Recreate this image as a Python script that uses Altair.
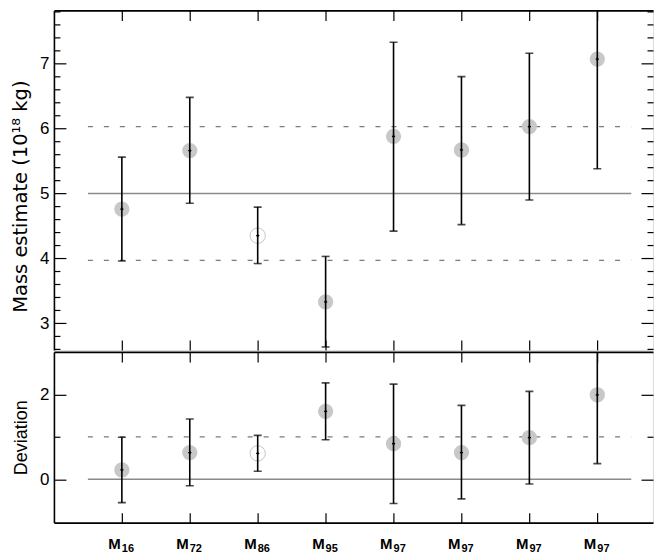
import altair as alt
import pandas as pd

# ---------------- data ----------------
positions = [1, 2, 3, 4, 5, 6, 7, 8]
label_main = ["M"] * 8
label_sub = ["16", "72", "86", "95", "97", "97", "97", "97"]
filled = [True, True, False, True, True, True, True, True]

mass = [4.76, 5.66, 4.35, 3.33, 5.88, 5.67, 6.03, 7.07]
mass_hi = [5.56, 6.48, 4.79, 4.03, 7.33, 6.80, 7.16, 8.80]
mass_lo = [3.96, 4.85, 3.92, 2.635, 4.42, 4.52, 4.90, 5.38]

dev = [0.22, 0.63, 0.61, 1.60, 0.84, 0.63, 0.98, 1.99]
dev_hi = [0.99, 1.42, 1.035, 2.27, 2.24, 1.74, 2.07, 3.60]
dev_lo = [-0.55, -0.15, 0.19, 0.93, -0.57, -0.46, -0.11, 0.37]

line_start, line_end = 0.5, 8.5
mass_solid = [5.0]
mass_dashed = [3.97, 6.03]
dev_solid = [0.0]
dev_dashed = [1.0]

mass_major = [3, 4, 5, 6, 7]
mass_minor = [2.6, 2.8, 3.2, 3.4, 3.6, 3.8, 4.2, 4.4, 4.6, 4.8, 5.2, 5.4, 5.6, 5.8,
              6.2, 6.4, 6.6, 6.8, 7.2, 7.4, 7.6, 7.8]
dev_major = [0, 2]
dev_minor = [1]

FONT = "Liberation Sans"
W = 600
H_TOP = 340
H_BOT = 171

xscale = alt.Scale(domain=[0, 8.82], nice=False, zero=False)
top_scale = alt.Scale(domain=[2.59, 7.82], nice=False, zero=False)
bot_scale = alt.Scale(domain=[-1.02, 3.0], nice=False, zero=False)


def tick_axis(orient, values, size):
    return alt.Axis(orient=orient, values=values, offset=-size, tickSize=size,
                    labels=False, domain=False, grid=False, title=None,
                    tickColor="black", tickWidth=1.2, minExtent=0, maxExtent=0)


def frame_axis(orient):
    return alt.Axis(orient=orient, ticks=False, labels=False, grid=False, title=None,
                    domain=True, domainColor="black", domainWidth=1.6,
                    minExtent=0, maxExtent=0)


def panel(val, hi, lo, solid, dashed, yscale, major, minor, title, title_font,
          title_size, title_y, height, add_labels, bottom_frame):
    df = pd.DataFrame({"pos": positions, "val": val, "hi": hi, "lo": lo,
                       "filled": filled})
    solid_df = pd.DataFrame({"y": solid, "x1": [line_start] * len(solid),
                             "x2": [line_end] * len(solid)})
    dashed_df = pd.DataFrame({"y": dashed, "x1": [line_start] * len(dashed),
                              "x2": [line_end] * len(dashed)})
    X = alt.X("pos:Q", scale=xscale, axis=None)

    layers = []
    layers.append(alt.Chart(solid_df).mark_rule(color="#8a8a8a", strokeWidth=1.5).encode(
        x=alt.X("x1:Q", scale=xscale, axis=None), x2="x2:Q",
        y=alt.Y("y:Q", scale=yscale, axis=None)))
    layers.append(alt.Chart(dashed_df).mark_rule(color="#7a7a7a", strokeWidth=1.3,
                                                 strokeDash=[5, 11]).encode(
        x=alt.X("x1:Q", scale=xscale, axis=None), x2="x2:Q",
        y=alt.Y("y:Q", scale=yscale, axis=None)))
    layers.append(alt.Chart(df).transform_filter("datum.filled").mark_circle(
        size=235, color="#c8c8c8", opacity=1).encode(
        x=X, y=alt.Y("val:Q", scale=yscale, axis=None)))
    layers.append(alt.Chart(df).transform_filter("!datum.filled").mark_point(
        shape="circle", size=235, color="#c4c4c4", strokeWidth=1, opacity=1).encode(
        x=X, y=alt.Y("val:Q", scale=yscale, axis=None)))
    layers.append(alt.Chart(df).mark_rule(color="black", strokeWidth=1.6, clip=True).encode(
        x=X, y=alt.Y("lo:Q", scale=yscale, axis=None), y2="hi:Q"))
    layers.append(alt.Chart(df).mark_tick(color="black", orient="horizontal", size=8,
                                          thickness=1.6, clip=True).encode(
        x=X, y=alt.Y("hi:Q", scale=yscale, axis=None)))
    layers.append(alt.Chart(df).mark_tick(color="black", orient="horizontal", size=8,
                                          thickness=1.6, clip=True).encode(
        x=X, y=alt.Y("lo:Q", scale=yscale, axis=None)))
    layers.append(alt.Chart(df).mark_point(shape="cross", filled=True, size=10,
                                           color="black", opacity=1).encode(
        x=X, y=alt.Y("val:Q", scale=yscale, axis=None)))

    # axes carried by transparent layers sharing the same scales
    lab_kw = dict(orient="left", values=major, ticks=False, grid=False,
                  domain=True, domainColor="black", domainWidth=1.6,
                  labelPadding=5, labelFont=FONT, labelFontSize=17,
                  labelColor="black", format="d", title=title,
                  titleFont=title_font, titleFontSize=title_size,
                  titleFontWeight="normal", titleColor="black", titlePadding=9)
    if title_y is not None:
        lab_kw["titleY"] = title_y
    lab_axis = alt.Axis(**lab_kw)
    xtick = dict(values=positions, offset=-10, tickSize=10, labels=False,
                 domain=False, grid=False, title=None, tickColor="black",
                 tickWidth=1.2, minExtent=0, maxExtent=0)
    axes_spec = [
        (alt.Axis(orient="top", **xtick), lab_axis),
        (alt.Axis(orient="bottom", **xtick), tick_axis("left", major, 12)),
        (frame_axis("top"), tick_axis("left", minor, 6)),
        (frame_axis("bottom") if bottom_frame else None, tick_axis("right", major, 12)),
        (None, tick_axis("right", minor, 6)),
    ]
    for xa, ya in axes_spec:
        layers.append(alt.Chart(df).mark_point(opacity=0).encode(
            x=alt.X("pos:Q", scale=xscale, axis=xa),
            y=alt.Y("val:Q", scale=yscale, axis=ya)))

    if add_labels:
        lab_df = pd.DataFrame({"pos": positions, "main": label_main, "sub": label_sub})
        layers.append(alt.Chart(lab_df).mark_text(
            font=FONT, fontSize=15, fontWeight="bold", align="right",
            baseline="alphabetic", dx=-1, color="black").encode(
            x=X, y=alt.value(height + 26), text="main:N"))
        layers.append(alt.Chart(lab_df).mark_text(
            font=FONT, fontSize=11, fontWeight="bold", align="left",
            baseline="alphabetic", dx=0, color="black").encode(
            x=X, y=alt.value(height + 29), text="sub:N"))

    return alt.layer(*layers).resolve_axis(x="independent", y="independent").properties(
        width=W, height=height)


top = panel(mass, mass_hi, mass_lo, mass_solid, mass_dashed, top_scale,
            mass_major, mass_minor, "Mass estimate (10¹⁸ kg)", "DejaVu Sans", 19.5,
            186, H_TOP, False, False)
bot = panel(dev, dev_hi, dev_lo, dev_solid, dev_dashed, bot_scale,
            dev_major, dev_minor, "Deviation", FONT, 18, None, H_BOT, True, True)

chart = alt.vconcat(top, bot, spacing=-4).properties(
    padding={"left": 2, "top": 0, "right": 0, "bottom": 0}
).configure_view(strokeWidth=0).configure(background="white")

chart.save("out.html", embed_options={"renderer": "svg", "actions": False})
